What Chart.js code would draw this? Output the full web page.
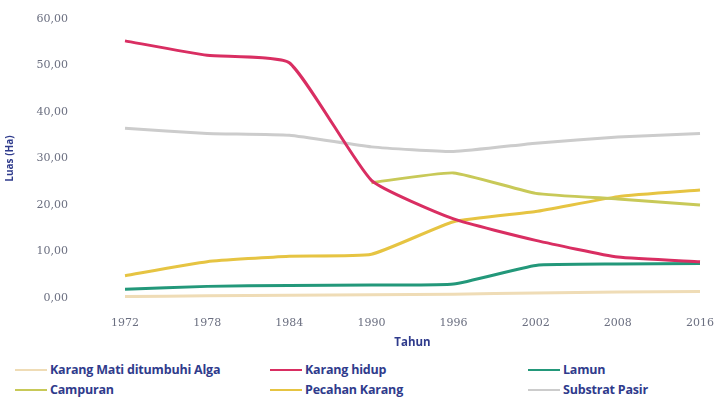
<!DOCTYPE html>
<html>
<head>
<meta charset="utf-8">
<script src="https://cdn.jsdelivr.net/npm/chart.js@4"></script>
<style>
  body { margin: 0; background: #fff; width: 725px; height: 405px; overflow: hidden; font-family: 'Open Sans', sans-serif; }
  #wrap { position: relative; width: 725px; height: 350px; }
  #legend { display: grid; grid-template-columns: 255px 258px 200px; padding-left: 15px; row-gap: 3px; margin-top: 11px; }
  .item { display: flex; align-items: center; font-size: 12.5px; font-weight: bold; color: #2f3b8c; height: 17px; letter-spacing: -0.2px; }
  .item span.sw { display: inline-block; width: 32px; height: 2px; margin-right: 3px; }
</style>
</head>
<body>
<div id="wrap"><canvas id="lineChart"></canvas></div>
<div id="legend"></div>
<script>
const tahun = ['1972', '1978', '1984', '1990', '1996', '2002', '2008', '2016'];

const karangMati = [0.3, 0.5, 0.6, 0.7, 0.8, 1.1, 1.3, 1.4];
const karangHidup = [55.3, 52.2, 50.6, 25.3, 17.0, 12.4, 8.8, 7.8];
const lamun = [1.9, 2.5, 2.7, 2.8, 3.0, 7.0, 7.3, 7.4];
const campuran = [null, null, null, 24.8, 26.9, 22.5, 21.3, 20.0];
const pecahanKarang = [4.8, 7.8, 9.0, 9.4, 16.4, 18.6, 21.8, 23.2];
const substratPasir = [36.5, 35.4, 35.0, 32.5, 31.5, 33.3, 34.6, 35.4];

const tickFont = { size: 11, family: 'DejaVu Serif' };

const ctx = document.getElementById('lineChart').getContext('2d');
const lineChart = new Chart(ctx, {
  type: 'line',
  data: {
    labels: tahun,
    datasets: [
      { label: 'Karang Mati ditumbuhi Alga', data: karangMati, borderColor: '#efdcb6' },
      { label: 'Karang hidup', data: karangHidup, borderColor: '#d92e62' },
      { label: 'Lamun', data: lamun, borderColor: '#23987a' },
      { label: 'Campuran', data: campuran, borderColor: '#c8c958' },
      { label: 'Pecahan Karang', data: pecahanKarang, borderColor: '#e6c442' },
      { label: 'Substrat Pasir', data: substratPasir, borderColor: '#cccccc' }
    ].map(d => Object.assign(d, { borderWidth: 3, pointRadius: 0, tension: 0.15, fill: false }))
  },
  options: {
    responsive: true,
    maintainAspectRatio: false,
    animation: false,
    layout: { padding: { top: 19, right: 15, left: 4, bottom: 0 } },
    plugins: {
      legend: { display: false },
      tooltip: { enabled: false }
    },
    scales: {
      x: {
        grid: { display: false },
        border: { display: false },
        ticks: { color: '#6b6f80', font: tickFont, padding: 11, maxRotation: 0 },
        title: { display: true, text: 'Tahun', color: '#2f3b8c', font: { size: 11.5, weight: 'bold', family: 'Open Sans' }, padding: 0 },
        afterFit: axis => { axis.height = 52; }
      },
      y: {
        min: 0,
        max: 60,
        grid: { display: false },
        border: { display: false },
        ticks: {
          stepSize: 10,
          color: '#6b6f80',
          font: tickFont,
          padding: 49,
          callback: v => v.toFixed(2).replace('.', ',')
        },
        title: { display: true, text: 'Luas (Ha)', color: '#2f3b8c', font: { size: 10, weight: 'bold', family: 'Open Sans' }, padding: 0 },
        afterFit: axis => {
          // the wide tick padding should only push labels left, not shrink the plot vertically
          axis.width = 121;
          axis.paddingTop = 4;
          axis.paddingBottom = 4;
        }
      }
    }
  }
});

// legend in three columns, built from the datasets
const legendEl = document.getElementById('legend');
lineChart.data.datasets.forEach(ds => {
  const item = document.createElement('div');
  item.className = 'item';
  item.innerHTML = '<span class="sw" style="background:' + ds.borderColor + '"></span>' + ds.label;
  legendEl.appendChild(item);
});
</script>
</body>
</html>
